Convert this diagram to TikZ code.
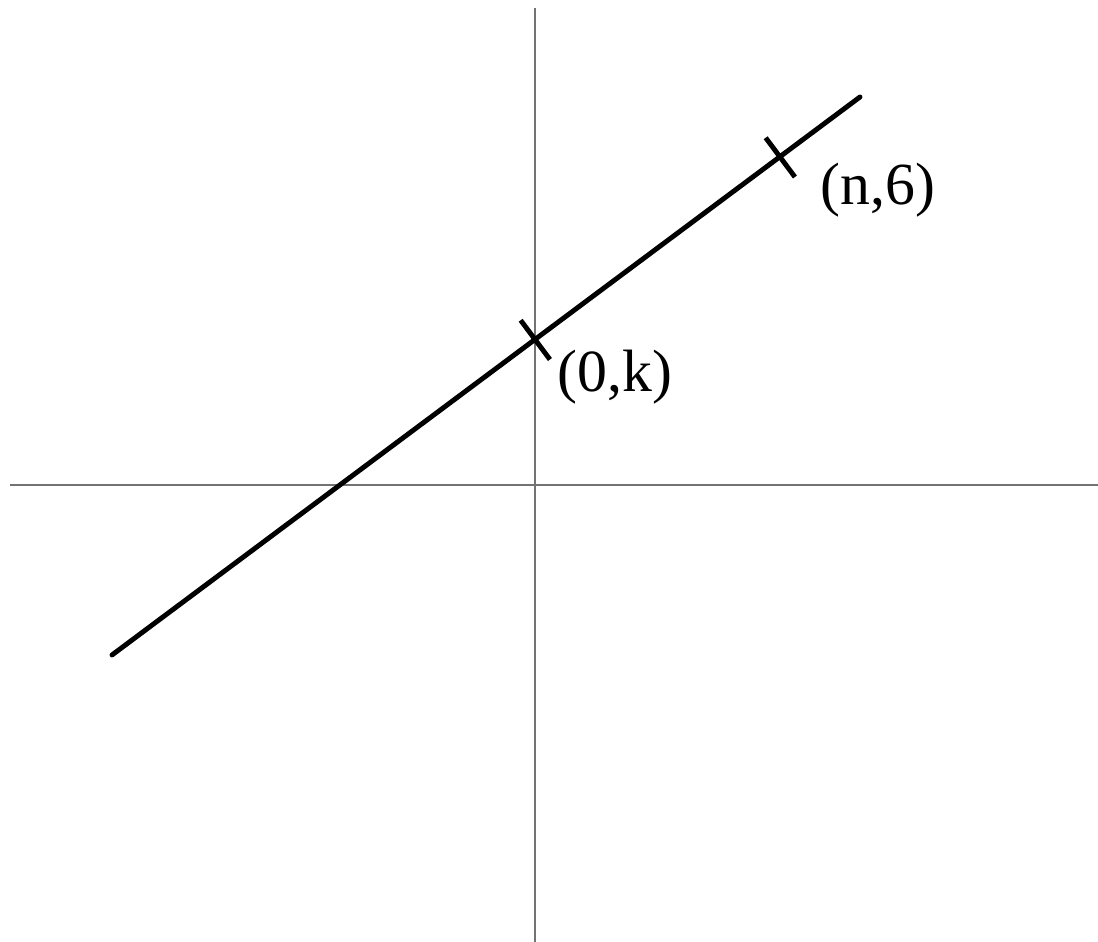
\documentclass[tikz,border=0pt]{standalone}
\usepackage{fontspec}
\setmainfont{Liberation Serif}
\begin{document}
\begin{tikzpicture}[>=stealth]
        \useasboundingbox (-5.35,-4.57) rectangle (5.63,4.85);
        % 坐标轴
        \draw[black!55, line width=0.8pt] (-5.25,0) -- (5.63,0);
        \draw[black!55, line width=0.8pt] (0,-4.57) -- (0,4.77);
        
        % 直线上的点
        \coordinate (L) at (-4.23,-1.70);
        \coordinate (R) at (3.25,3.88);
        \coordinate (K) at (0,1.455);   % (0,k)
        \coordinate (N) at (2.45,3.28); % (n,6)
        
        % 直线
        \draw[line width=1.4pt, line cap=round] (L) -- (R);
        
        % 刻度
        \draw[line width=1.4pt, shift={(K)}, rotate=36.7] (0,-0.25) -- (0,0.24);
        \draw[line width=1.4pt, shift={(N)}, rotate=36.7] (0,-0.25) -- (0,0.24);
        
        % 标签
        \node[font=\fontsize{17}{20}\selectfont] (kl) at (0.80,1.08) {(0,k)};
        \node[font=\fontsize{17}{20}\selectfont] (nl) at (3.43,2.95) {(n,6)};
    \end{tikzpicture}
\end{document}
